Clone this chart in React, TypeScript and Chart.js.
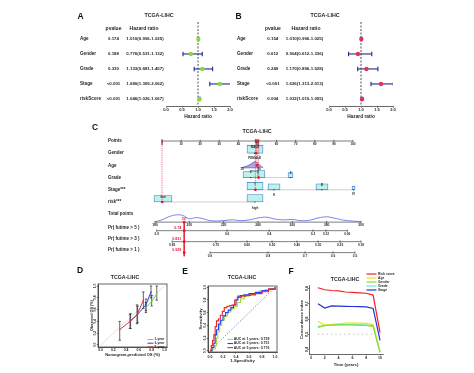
import React, { useEffect, useRef } from 'react';
import { Chart, registerables } from 'chart.js';

Chart.register(...registerables);

const FONT = "'Liberation Sans', Arial, Helvetica, sans-serif";
const INK = '#262626';
const NAVY = '#1d2a86';
const GREEN_PT = '#86dc3c';
const RED_PT = '#e23352';
const BOX_FILL = '#bdf1ea';
const BOX_EDGE = '#3f7fd6';
const DENS_C = '#4050d8';
const RED = '#e8162e';
const GRAY_LINE = '#c4c4c4';

// ---------------- Panels A / B : forest plots ----------------
const FACTORS = ['Age', 'Gender', 'Grade', 'Stage', 'riskScore'];
const A_P = ['0.174', '0.188', '0.330', '<0.001', '<0.001'];
const A_HR = [1.010, 0.776, 1.133, 1.680, 1.046];
const A_LO = [0.996, 0.531, 0.881, 1.369, 1.026];
const A_HI = [1.025, 1.132, 1.457, 2.062, 1.067];
const B_P = ['0.154', '0.612', '0.249', '<0.001', '0.004'];
const B_HR = [1.010, 0.904, 1.170, 1.626, 1.032];
const B_LO = [0.996, 0.612, 0.896, 1.313, 1.010];
const B_HI = [1.025, 1.336, 1.528, 2.013, 1.055];
const HR_TICKS = [0, 0.5, 1, 1.5, 2];

// ---------------- Panel C : nomogram ----------------
const NOMO_ROWS = ['Points', 'Gender', 'Age', 'Grade', 'Stage***', 'risk***', 'Total points', 'Pr( futime > 5 )', 'Pr( futime > 3 )', 'Pr( futime > 1 )'];
const POINT_TICKS = [0, 10, 20, 30, 40, 50, 60, 70, 80, 90, 100];
const TOTAL_TICKS = [180, 200, 220, 240, 260, 280, 300];
const PR5_LABELS = ['0.9', '0.6', '0.4', '0.2', '0.12', '0.06'];
const PR5_AT = [181, 222, 246.5, 272, 279.6, 292];
const PR3_LABELS = ['0.85', '0.75', '0.60', '0.50', '0.40', '0.30', '0.25', '0.18'];
const PR3_AT = [190, 215.5, 233.6, 248.2, 262.7, 275, 287.8, 300];
const PR1_LABELS = ['0.9', '0.8', '0.7', '0.6', '0.5'];
const PR1_AT = [212, 245.8, 267.4, 283.7, 296.5];
const AGE_LABELS = ['10', '90'];
const AGE_AT = [41.9, 50.8];
const AGE_DENS_X = [41.5, 43, 45, 47, 48.5, 50, 51.5, 53];
const AGE_DENS_Y = [0, 0.15, 0.35, 0.7, 1.0, 0.8, 0.35, 0];
const TOT_DENS_X = [180, 184, 188, 192, 196, 200, 204, 208, 212, 216, 220, 225, 230, 235, 240, 245, 250, 255, 260, 265, 270, 275, 280, 285, 290, 295, 300];
const TOT_DENS_Y = [0.05, 0.3, 0.7, 0.95, 0.9, 0.45, 0.6, 0.45, 0.2, 0.15, 0.2, 0.3, 0.2, 0.3, 0.55, 0.65, 0.4, 0.3, 0.35, 0.2, 0.25, 0.55, 0.7, 0.5, 0.25, 0.15, 0.05];
const BOX_ROW = [1, 1, 3, 3, 3, 4, 4, 4, 4, 5, 5];
const BOX_LO = [44.5, 45.3, 42.4, 46.6, 66.0, 44.5, 55.5, 80.6, 99.5, -4.2, 44.5];
const BOX_HI = [52.9, 51.8, 50.3, 53.9, 68.6, 52.9, 61.8, 86.9, 101.1, 5.2, 52.9];
const BOX_TXT = ['MALE', 'FEMALE', '2', '3', '4', 'I', 'II', 'III', 'IV', 'low', 'high'];
const PAT_ROW = [1, 2, 3, 4, 5];
const PAT_PTS = [49.3, 49.8, 50.6, 48.9, 0];
const PAT_TOTAL = 197;
const PAT_PR = ['0.74', '0.831', '0.929'];

// ---------------- Panel D : calibration ----------------
const CAL_TICKS = [0, 0.2, 0.4, 0.6, 0.8, 1];
const CAL_1Y_X = [0.71, 0.80, 0.88];
const CAL_1Y_Y = [0.63, 0.74, 0.86];
const CAL_1Y_LO = [0.55, 0.66, 0.76];
const CAL_1Y_HI = [0.72, 0.84, 1.0];
const CAL_3Y_X = [0.47, 0.58, 0.71, 0.79];
const CAL_3Y_Y = [0.41, 0.52, 0.68, 0.90];
const CAL_3Y_LO = [0.28, 0.38, 0.58, 0.80];
const CAL_3Y_HI = [0.53, 0.66, 0.78, 1.0];
const CAL_5Y_X = [0.30, 0.46, 0.57, 0.67];
const CAL_5Y_Y = [0.26, 0.40, 0.51, 0.76];
const CAL_5Y_LO = [0.08, 0.28, 0.36, 0.62];
const CAL_5Y_HI = [0.40, 0.52, 0.68, 0.90];
const CAL_NAMES = ['1-year', '3-year', '5-year'];

// ---------------- Panel E : ROC ----------------
const ROC_1Y_X = [0, 0.04, 0.08, 0.1, 0.12, 0.15, 0.18, 0.22, 0.27, 0.32, 0.37, 0.42, 0.47, 0.53, 0.6, 0.68, 0.76, 0.85, 0.93, 1];
const ROC_1Y_Y = [0, 0.03, 0.08, 0.2, 0.3, 0.4, 0.48, 0.55, 0.61, 0.66, 0.7, 0.76, 0.82, 0.86, 0.89, 0.91, 0.94, 0.96, 0.98, 1];
const ROC_3Y_X = [0, 0.03, 0.06, 0.08, 0.1, 0.13, 0.16, 0.2, 0.24, 0.28, 0.32, 0.36, 0.4, 0.43, 0.47, 0.52, 0.6, 0.7, 0.8, 0.9, 1];
const ROC_3Y_Y = [0, 0.05, 0.12, 0.25, 0.33, 0.42, 0.48, 0.55, 0.6, 0.64, 0.68, 0.72, 0.8, 0.86, 0.87, 0.88, 0.9, 0.92, 0.95, 0.97, 1];
const ROC_5Y_X = [0, 0.02, 0.04, 0.06, 0.08, 0.1, 0.13, 0.16, 0.19, 0.22, 0.26, 0.3, 0.34, 0.38, 0.42, 0.48, 0.55, 0.62, 0.7, 0.8, 0.9, 1];
const ROC_5Y_Y = [0, 0.08, 0.16, 0.25, 0.38, 0.47, 0.5, 0.56, 0.62, 0.68, 0.7, 0.71, 0.72, 0.8, 0.84, 0.86, 0.87, 0.88, 0.9, 0.93, 0.97, 1];
const ROC_NAMES = ['AUC at 1 years: 0.759', 'AUC at 3 years: 0.751', 'AUC at 5 years: 0.776'];

// ---------------- Panel F : C-index over time ----------------
const YEARS = [1, 2, 3, 4, 5, 6, 7, 8, 9, 10];
const CI_RISK = [0.805, 0.792, 0.787, 0.784, 0.777, 0.774, 0.772, 0.769, 0.757, 0.51];
const CI_AGE = [0.585, 0.560, 0.565, 0.569, 0.573, 0.573, 0.573, 0.571, 0.563, 0.385];
const CI_GENDER = [0.545, 0.556, 0.560, 0.562, 0.562, 0.562, 0.560, 0.558, 0.552, 0.380];
const CI_GRADE = [0.550, 0.558, 0.561, 0.562, 0.563, 0.563, 0.562, 0.560, 0.555, 0.385];
const CI_STAGE = [0.700, 0.672, 0.686, 0.684, 0.683, 0.682, 0.681, 0.680, 0.669, 0.46];
const CI_NAMES = ['Risk score', 'Age', 'Gender', 'Grade', 'Stage'];
const X_YEARS_TICKS = [0, 2, 4, 6, 8, 10];
const CI_TICKS = [0.4, 0.5, 0.6, 0.7, 0.8];

// ---------------- helpers ----------------
type Off = { x: number; y: number };

function txt(ctx: CanvasRenderingContext2D, off: Off, s: string, px: number, py: number, o: any = {}) {
  ctx.save();
  ctx.font = `${o.weight ?? 'bold'} ${o.size ?? 4.5}px ${FONT}`;
  ctx.fillStyle = o.color ?? INK;
  ctx.textAlign = o.align ?? 'left';
  ctx.textBaseline = o.base ?? 'middle';
  ctx.translate(px - off.x, py - off.y);
  if (o.rot) ctx.rotate(o.rot);
  ctx.fillText(s, 0, 0);
  ctx.restore();
}

function seg(data: any[], color: string, width: number, extra: any = {}) {
  return { type: 'scatter', showLine: true, data, borderColor: color, backgroundColor: color, borderWidth: width, pointRadius: 0, pointHoverRadius: 0, pointBorderWidth: 0, fill: false, ...extra };
}
function pts(data: any[], color: string, radius: number, extra: any = {}) {
  return { type: 'scatter', showLine: false, data, backgroundColor: color, borderColor: color, pointBackgroundColor: color, pointBorderColor: color, pointRadius: radius, pointHoverRadius: radius, pointBorderWidth: 0, ...extra };
}

function base(padding: any, scales: any) {
  return {
    responsive: false,
    maintainAspectRatio: false,
    animation: false,
    devicePixelRatio: 1,
    events: [],
    layout: { padding },
    scales,
    plugins: { legend: { display: false }, tooltip: { enabled: false }, title: { display: false } },
  };
}

function rAxis(o: any) {
  return {
    type: 'linear', min: o.min, max: o.max, bounds: 'data', offset: false,
    grid: { display: true, drawOnChartArea: false, drawTicks: true, tickLength: o.tl ?? 1.5, color: INK, lineWidth: 0.6, offset: false },
    border: { display: true, color: INK, width: 0.7 },
    ticks: {
      display: true, autoSkip: false, color: INK, padding: o.pad ?? 0,
      font: { family: FONT, size: o.fs ?? 3.6, weight: 'bold' },
      minRotation: o.rot ?? 0, maxRotation: o.rot ?? 0, crossAlign: o.rot ? 'center' : 'near',
      callback: (v: number) => o.fmt(v),
    },
    afterBuildTicks: (s: any) => { s.ticks = o.ticks.map((v: number) => ({ value: v })); },
    afterFit: (s: any) => { if (s.isHorizontal()) s.height = o.size; else s.width = o.size; },
    title: o.title
      ? { display: true, text: o.title, color: INK, padding: 0, font: { family: FONT, size: o.tfs ?? 4.2, weight: 'bold' } }
      : { display: false },
  };
}

function legendPlugin(off: Off, names: string[], colors: string[], L: any) {
  return {
    id: 'miniLegend',
    afterDraw(c: any) {
      const ctx = c.ctx as CanvasRenderingContext2D;
      names.forEach((n, i) => {
        const py = L.y + i * L.dy;
        ctx.save();
        ctx.strokeStyle = colors[i];
        ctx.lineWidth = L.lw;
        ctx.beginPath();
        ctx.moveTo(L.x - off.x, py - off.y);
        ctx.lineTo(L.x + L.len - off.x, py - off.y);
        ctx.stroke();
        ctx.restore();
        txt(ctx, off, n, L.x + L.len + L.gap, py, { size: L.fs });
      });
    },
  };
}

const framePlugin = {
  id: 'frame',
  afterDatasetsDraw(c: any) {
    const { ctx, chartArea: a } = c;
    ctx.save();
    ctx.strokeStyle = INK;
    ctx.lineWidth = 0.7;
    ctx.strokeRect(a.left, a.top, a.right - a.left, a.bottom - a.top);
    ctx.restore();
  },
};

function titlePlugin(off: Off, s: string, x: number, y: number) {
  return { id: 'panelTitle', afterDraw(c: any) { txt(c.ctx, off, s, x, y, { size: 5.2, align: 'center' }); } };
}

// ---------------- A / B ----------------
const FOREST_Y_MIN = -1.13;
const FOREST_Y_MAX = 4.47;
const FOREST_A = { padL: 126, padR: 10, labelX: 80, pX: 113.5, hrX: 145, headHrX: 144, titleX: 159 };
const FOREST_B = { padL: 97, padR: 47, labelX: 237, pX: 272.8, hrX: 304.5, headHrX: 306, titleX: 325 };

function forestConfig(off: Off, P: string[], HR: number[], LO: number[], HI: number[], color: string, L: any) {
  const datasets: any[] = [
    seg([{ x: 1, y: FOREST_Y_MIN }, { x: 1, y: FOREST_Y_MAX }], INK, 0.8, { borderDash: [2, 1.5], order: 5 }),
    ...FACTORS.map((_, i) => seg([{ x: LO[i], y: i }, { x: HI[i], y: i }], NAVY, 1.1, {
      pointRadius: 2.3, pointStyle: 'line', pointRotation: 90, pointBorderColor: NAVY, pointBorderWidth: 1.1, order: 3,
    })),
    pts(HR.map((v, i) => ({ x: v, y: i })), color, 2.2, { order: 1 }),
  ];
  return {
    type: 'scatter',
    data: { datasets },
    options: base({ left: L.padL, right: L.padR, top: 22, bottom: 5 }, {
      x: rAxis({ min: 0, max: 2, ticks: HR_TICKS, fmt: (v: number) => v.toFixed(1), size: 14, tl: 1.8, pad: 0, fs: 4.1, title: 'Hazard ratio', tfs: 4.8 }),
      y: { type: 'linear', display: false, min: FOREST_Y_MIN, max: FOREST_Y_MAX, reverse: true },
    }),
    plugins: [{
      id: 'forestText',
      afterDraw(c: any) {
        const ctx = c.ctx;
        const ys = c.scales.y;
        txt(ctx, off, 'TCGA-LIHC', L.titleX, 15.5, { size: 5.3, align: 'center' });
        txt(ctx, off, 'pvalue', L.pX, 28.5, { size: 5, align: 'center' });
        txt(ctx, off, 'Hazard ratio', L.headHrX, 28.5, { size: 5, align: 'center' });
        FACTORS.forEach((f, i) => {
          const py = ys.getPixelForValue(i) + off.y;
          txt(ctx, off, f, L.labelX, py, { size: 4.6 });
          txt(ctx, off, P[i], L.pX, py, { size: 4.4, align: 'center' });
          txt(ctx, off, `${HR[i].toFixed(3)}(${LO[i].toFixed(3)}-${HI[i].toFixed(3)})`, L.hrX, py, { size: 4.4, align: 'center' });
        });
      },
    }],
  };
}

// ---------------- C ----------------
const NOMO_LABEL_ROW = [0, 1, 2, 3, 4, 5, 6, 7.1, 8.0, 8.9];
const AX_POINTS = 0;
const AX_TOTAL = 6.65;
const AX_PR5 = 7.35;
const AX_PR3 = 8.25;
const AX_PR1 = 9.15;
const ROW_AGE = 2;
const BOX_THICK = [8, 6, 6, 7, 5, 7.5, 6, 6, 3.5, 6.5, 7.5];
const BOX_SIDE = [-1, 1, -1, -1, -1, -1, 1, -1, 1, -1, 1];

function nomoConfig(off: Off) {
  const ds: any[] = [];
  const ax = (id: string, row: number, a: number, b: number) => seg([{ x: a, y: row }, { x: b, y: row }], INK, 0.6, { xAxisID: id, order: 7 });
  const tk = (id: string, row: number, vals: number[]) => pts(vals.map((v) => ({ x: v, y: row })), INK, 1.2, {
    xAxisID: id, pointStyle: 'line', pointRotation: 90, pointBorderColor: INK, pointBorderWidth: 0.6, order: 7,
  });
  ds.push(ax('x', AX_POINTS, POINT_TICKS[0], POINT_TICKS[POINT_TICKS.length - 1]));
  ds.push(tk('x', AX_POINTS, POINT_TICKS));
  ds.push(ax('xt', AX_TOTAL, TOTAL_TICKS[0], TOTAL_TICKS[TOTAL_TICKS.length - 1]));
  ds.push(tk('xt', AX_TOTAL, TOTAL_TICKS));
  ([[AX_PR5, PR5_AT], [AX_PR3, PR3_AT], [AX_PR1, PR1_AT]] as [number, number[]][]).forEach(([row, at]) => {
    ds.push(ax('xt', row, at[0], at[at.length - 1]));
    ds.push(tk('xt', row, at));
  });
  ds.push(seg(TOT_DENS_X.map((v, i) => ({ x: v, y: AX_TOTAL - TOT_DENS_Y[i] * 0.62 })), DENS_C, 0.7, { xAxisID: 'xt', tension: 0.4, order: 6 }));
  ds.push(seg(AGE_DENS_X.map((v, i) => ({ x: v, y: ROW_AGE + 0.2 - AGE_DENS_Y[i] * 0.5 })), DENS_C, 0.8, {
    xAxisID: 'x', tension: 0.4, order: 6, fill: { value: ROW_AGE + 0.2 }, backgroundColor: 'rgba(80,60,190,0.45)',
  }));
  ds.push(seg([{ x: AGE_AT[0], y: ROW_AGE + 0.2 }, { x: AGE_AT[1], y: ROW_AGE + 0.2 }], INK, 0.5, { xAxisID: 'x', order: 7 }));
  const rows = Array.from(new Set(BOX_ROW));
  rows.forEach((r) => {
    const cs = BOX_ROW.map((rr, i) => (rr === r ? (BOX_LO[i] + BOX_HI[i]) / 2 : null)).filter((v) => v !== null) as number[];
    if (cs.length > 1) ds.push(seg([{ x: Math.min(...cs), y: r }, { x: Math.max(...cs), y: r }], GRAY_LINE, 0.8, { xAxisID: 'x', order: 10 }));
  });
  BOX_ROW.forEach((r, i) => {
    ds.push({
      type: 'bar', indexAxis: 'y', xAxisID: 'x', yAxisID: 'y', stack: 'boxes', grouped: true,
      data: [{ y: r, x: [BOX_LO[i], BOX_HI[i]] }],
      barThickness: BOX_THICK[i], backgroundColor: BOX_FILL, borderColor: BOX_EDGE, borderWidth: 0.8, borderSkipped: false, order: 8,
    });
  });
  ds.push(pts(BOX_ROW.map((r, i) => ({ x: (BOX_LO[i] + BOX_HI[i]) / 2, y: r })), INK, 0.6, { xAxisID: 'x', order: 4 }));
  ds.push(seg(PAT_PTS.flatMap((v, i) => [{ x: v, y: AX_POINTS }, { x: v, y: PAT_ROW[i] }, { x: v, y: null }]), RED, 0.6, { xAxisID: 'x', borderDash: [1.3, 1], order: 2 }));
  ds.push(pts(PAT_PTS.map((v, i) => ({ x: v, y: PAT_ROW[i] })), RED, 1.3, { xAxisID: 'x', order: 1 }));
  ds.push(pts(PAT_PTS.map((v) => ({ x: v, y: AX_POINTS })), RED, 1.7, { xAxisID: 'x', pointStyle: 'line', pointRotation: 90, pointBorderColor: RED, pointBorderWidth: 1.1, order: 1 }));
  ds.push(seg([{ x: PAT_TOTAL, y: AX_TOTAL }, { x: PAT_TOTAL, y: AX_PR1 + 0.3 }], RED, 0.8, { xAxisID: 'xt', order: 1 }));
  ds.push(pts([AX_TOTAL, AX_PR5, AX_PR3, AX_PR1].map((r) => ({ x: PAT_TOTAL, y: r })), RED, 1.4, { xAxisID: 'xt', order: 1 }));

  return {
    type: 'scatter',
    data: { datasets: ds },
    options: base({ left: 90, right: 10, top: 18, bottom: 5 }, {
      x: { type: 'linear', display: false, min: -6.3, max: 106.3, offset: false, stacked: false },
      xt: { type: 'linear', axis: 'x', display: false, min: 177.09, max: 302.33, offset: false },
      y: { type: 'linear', display: false, min: -0.41, max: 9.59, reverse: true, offset: false, grid: { offset: false } },
    }),
    plugins: [{
      id: 'nomoText',
      afterDraw(c: any) {
        const ctx = c.ctx;
        const xs = c.scales.x, xt = c.scales.xt, ys = c.scales.y;
        const X = (v: number) => xs.getPixelForValue(v) + off.x;
        const XT = (v: number) => xt.getPixelForValue(v) + off.x;
        const Y = (r: number) => ys.getPixelForValue(r) + off.y;
        txt(ctx, off, 'TCGA-LIHC', 257, 132, { size: 5.3, align: 'center' });
        NOMO_ROWS.forEach((s, i) => txt(ctx, off, s, 108, Y(NOMO_LABEL_ROW[i]), { size: 4.5 }));
        POINT_TICKS.forEach((v) => txt(ctx, off, String(v), X(v), Y(AX_POINTS) + 3.3, { size: 3.1, align: 'center' }));
        TOTAL_TICKS.forEach((v) => txt(ctx, off, String(v), XT(v), Y(AX_TOTAL) + 3.4, { size: 3.3, align: 'center' }));
        ([[AX_PR5, PR5_AT, PR5_LABELS], [AX_PR3, PR3_AT, PR3_LABELS], [AX_PR1, PR1_AT, PR1_LABELS]] as any[]).forEach(([row, at, lab]) => {
          at.forEach((v: number, k: number) => txt(ctx, off, lab[k], XT(v), Y(row) + 3.3, { size: 3.2, align: 'center' }));
        });
        AGE_AT.forEach((v, k) => txt(ctx, off, AGE_LABELS[k], X(v), Y(ROW_AGE) + 3.6, { size: 3.1, align: 'center' }));
        BOX_ROW.forEach((r, i) => {
          const cx = X((BOX_LO[i] + BOX_HI[i]) / 2);
          const cy = Y(r) + BOX_SIDE[i] * (BOX_THICK[i] / 2 + 2.1);
          txt(ctx, off, BOX_TXT[i], cx, cy, { size: 3.1, align: 'center' });
        });
        PAT_PR.forEach((s, k) => txt(ctx, off, s, XT(PAT_TOTAL) - 3, Y(NOMO_LABEL_ROW[7 + k]), { size: 3.6, align: 'right', color: RED }));
        txt(ctx, off, String(PAT_TOTAL), XT(PAT_TOTAL), Y(AX_TOTAL) - 2.8, { size: 3, align: 'center', color: RED });
      },
    }],
  };
}

// ---------------- D ----------------
const CAL_COLORS = ['#6fd04a', '#2b3fd0', '#e03232'];

function calConfig(off: Off) {
  const series = [
    { x: CAL_1Y_X, y: CAL_1Y_Y, lo: CAL_1Y_LO, hi: CAL_1Y_HI },
    { x: CAL_3Y_X, y: CAL_3Y_Y, lo: CAL_3Y_LO, hi: CAL_3Y_HI },
    { x: CAL_5Y_X, y: CAL_5Y_Y, lo: CAL_5Y_LO, hi: CAL_5Y_HI },
  ];
  const bars = series.flatMap((s) => s.x.flatMap((v, i) => [{ x: v, y: s.lo[i] }, { x: v, y: s.hi[i] }, { x: v, y: null }]));
  const datasets: any[] = [
    seg([{ x: 0, y: 0 }, { x: 1, y: 1 }], '#d2d2d2', 0.7, { order: 9 }),
    seg(bars, INK, 0.7, { pointRadius: 1.2, pointStyle: 'line', pointRotation: 0, pointBorderColor: INK, pointBorderWidth: 0.7, order: 4 }),
    ...series.map((s, k) => seg(s.x.map((v, i) => ({ x: v, y: s.y[i] })), CAL_COLORS[k], 1, { order: 3 - k, pointRadius: 0.7, pointBackgroundColor: CAL_COLORS[k] })),
  ];
  const fmt = (v: number) => v.toFixed(1);
  return {
    type: 'scatter',
    data: { datasets },
    options: base({ left: 8, right: 7, top: 22, bottom: 11 }, {
      x: rAxis({ min: -0.04, max: 1.04, ticks: CAL_TICKS, fmt, size: 10, tl: 1.2, pad: 0, fs: 3.4, title: 'Nomogram-predicted OS (%)', tfs: 4 }),
      y: rAxis({ min: -0.034, max: 1.034, ticks: CAL_TICKS, fmt, size: 8, tl: 1.2, pad: -1, fs: 3.4, rot: 90, title: 'Observed OS (%)', tfs: 3.8 }),
    }),
    plugins: [framePlugin, titlePlugin(off, 'TCGA-LIHC', 125, 277.5), legendPlugin(off, CAL_NAMES, CAL_COLORS, { x: 147.5, y: 339.5, dy: 3.7, len: 6, gap: 1, fs: 3.3, lw: 1 })],
  };
}

// ---------------- E ----------------
const ROC_COLORS = ['#a9d83c', '#2342f0', '#f02424'];

function rocConfig(off: Off) {
  const series = [[ROC_1Y_X, ROC_1Y_Y], [ROC_3Y_X, ROC_3Y_Y], [ROC_5Y_X, ROC_5Y_Y]];
  const datasets: any[] = [
    seg([{ x: 0, y: 0 }, { x: 1, y: 1 }], '#5b7db3', 0.8, { borderDash: [1.5, 1.5], order: 9 }),
    ...series.map(([xs, ys], k) => seg(xs.map((v, i) => ({ x: v, y: ys[i] })), ROC_COLORS[k], 1.1, { stepped: true, order: 3 - k })),
  ];
  const fmt = (v: number) => v.toFixed(1);
  return {
    type: 'scatter',
    data: { datasets },
    options: base({ left: 18, right: 5, top: 24, bottom: 6.4 }, {
      x: rAxis({ min: -0.03, max: 1.03, ticks: CAL_TICKS, fmt, size: 11.6, tl: 1.5, pad: 1.2, fs: 3.5, title: '1-Specificity', tfs: 4.2 }),
      y: rAxis({ min: -0.02, max: 1.02, ticks: CAL_TICKS, fmt, size: 10, tl: 1.2, pad: -0.5, fs: 3.5, rot: 90, title: 'Sensitivity', tfs: 4.2 }),
    }),
    plugins: [framePlugin, titlePlugin(off, 'TCGA-LIHC', 242, 278), legendPlugin(off, ROC_NAMES, ROC_COLORS, { x: 227.5, y: 339.4, dy: 4.1, len: 5.5, gap: 0.8, fs: 3.5, lw: 1.1 })],
  };
}

// ---------------- F ----------------
const CI_COLORS = ['#ee2424', '#e6e61e', '#7fe03e', '#6ee6e6', '#2232d2'];
const CI_DRAW_ORDER = [5, 3, 2, 4, 1];

function cindexConfig(off: Off) {
  const series = [CI_RISK, CI_AGE, CI_GENDER, CI_GRADE, CI_STAGE];
  const datasets: any[] = [
    seg(YEARS.map((v) => ({ x: v, y: 0.5 })), '#a8a8a8', 0.8, { borderDash: [1.2, 3.2], order: 9 }),
    ...series.map((s, k) => seg(YEARS.map((v, i) => ({ x: v, y: s[i] })), CI_COLORS[k], 1.2, { order: CI_DRAW_ORDER[k] })),
  ];
  return {
    type: 'scatter',
    data: { datasets },
    options: base({ left: 14, right: 32, top: 23, bottom: 2.4 }, {
      x: rAxis({ min: -0.29, max: 10.43, ticks: X_YEARS_TICKS, fmt: (v: number) => String(v), size: 13.6, tl: 1.5, pad: 0.2, fs: 3.6, title: 'Time (years)', tfs: 4.2 }),
      y: rAxis({ min: 0.3705, max: 0.823, ticks: CI_TICKS, fmt: (v: number) => v.toFixed(1), size: 10, tl: 1.2, pad: -1.5, fs: 3.6, rot: 90, title: 'Concordance index', tfs: 4.2 }),
    }),
    plugins: [titlePlugin(off, 'TCGA-LIHC', 345, 279.5), legendPlugin(off, CI_NAMES, CI_COLORS, { x: 366.5, y: 274, dy: 4, len: 10, gap: 1.5, fs: 3.3, lw: 1.2 })],
  };
}

// ---------------- components ----------------
function ChartBox({ x, y, w, h, make }: { x: number; y: number; w: number; h: number; make: (off: Off) => any }) {
  const ref = useRef<HTMLCanvasElement | null>(null);
  useEffect(() => {
    if (!ref.current) return;
    const chart = new Chart(ref.current, make({ x, y }));
    return () => chart.destroy();
  }, []);
  return <canvas ref={ref} width={w} height={h} style={{ position: 'absolute', left: x, top: y, width: w, height: h }} />;
}

const LETTERS: [string, number, number][] = [
  ['A', 80.5, 15.5], ['B', 238.5, 15.5], ['C', 95, 127], ['D', 80, 270], ['E', 185, 270.5], ['F', 291, 271],
];

export default function App() {
  return (
    <div style={{ position: 'fixed', left: 0, top: 0, width: 474, height: 373, background: '#ffffff', overflow: 'hidden' }}>
      <ChartBox x={40} y={0} w={200} h={125} make={(o) => forestConfig(o, A_P, A_HR, A_LO, A_HI, GREEN_PT, FOREST_A)} />
      <ChartBox x={232} y={0} w={208} h={125} make={(o) => forestConfig(o, B_P, B_HR, B_LO, B_HI, RED_PT, FOREST_B)} />
      <ChartBox x={60} y={118} w={315} h={145} make={nomoConfig} />
      <ChartBox x={82} y={262} w={92} h={106} make={calConfig} />
      <ChartBox x={180} y={262} w={102} h={108} make={rocConfig} />
      <ChartBox x={285} y={262} w={130} h={108} make={cindexConfig} />
      {LETTERS.map(([s, lx, ly]) => (
        <div key={s} style={{ position: 'absolute', left: lx, top: ly, transform: 'translate(-50%, -50%)', font: `bold 8.5px ${FONT}`, lineHeight: '8.5px', color: '#111' }}>{s}</div>
      ))}
    </div>
  );
}
